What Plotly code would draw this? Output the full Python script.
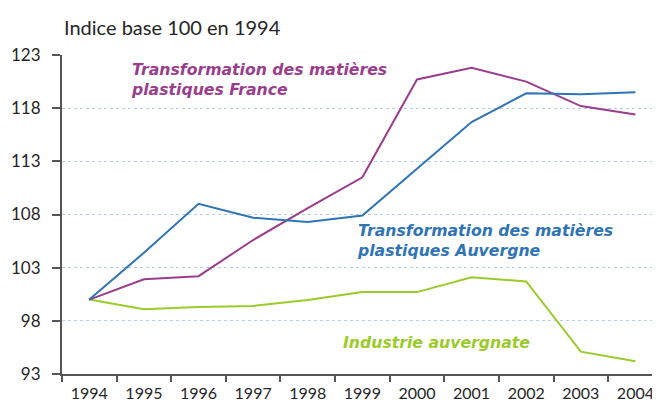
import plotly.graph_objects as go

years = ["1994", "1995", "1996", "1997", "1998", "1999", "2000", "2001", "2002", "2003", "2004"]
plast_france = [100, 101.9, 102.2, 105.6, 108.6, 111.5, 120.7, 121.8, 120.5, 118.2, 117.4]
plast_auvergne = [100, 104.4, 109.0, 107.7, 107.3, 107.9, 112.3, 116.7, 119.4, 119.3, 119.5]
industrie_auv = [100, 99.1, 99.3, 99.4, 99.95, 100.7, 100.7, 102.1, 101.7, 95.1, 94.2]
y_ticks = [93, 98, 103, 108, 113, 118, 123]

PURPLE = "#9a3d8c"
BLUE = "#2f74b5"
GREEN = "#9bcb2a"
FONT = "Lato"
ANN_FONT = "DejaVu Sans"
TXT = "#262626"

fig = go.Figure()
for vals, col in [(industrie_auv, GREEN), (plast_france, PURPLE), (plast_auvergne, BLUE)]:
    fig.add_trace(go.Scatter(x=years, y=vals, mode="lines",
                             line=dict(color=col, width=2), showlegend=False,
                             hoverinfo="skip"))

ann_font = dict(family=ANN_FONT, size=15.7)
fig.add_annotation(x=0.72, y=122.75, xref="x", yref="y", xanchor="left", yanchor="top",
                   text="<b><i>Transformation des matières<br>plastiques France</i></b>",
                   showarrow=False, align="left", font=dict(color=PURPLE, **ann_font))
fig.add_annotation(x=4.87, y=107.55, xref="x", yref="y", xanchor="left", yanchor="top",
                   text="<b><i>Transformation des matières<br>plastiques Auvergne</i></b>",
                   showarrow=False, align="left", font=dict(color=BLUE, **ann_font))
fig.add_annotation(x=4.6, y=95.95, xref="x", yref="y", xanchor="left", yanchor="middle",
                   text="<b><i>Industrie auvergnate</i></b>",
                   showarrow=False, align="left", font=dict(color=GREEN, **ann_font))
fig.add_annotation(x=0, y=1 + (47 - 19) / 319.0, xref="paper", yref="paper",
                   xanchor="left", yanchor="middle",
                   text="Indice base 100 en 1994", showarrow=False,
                   font=dict(family=FONT, size=20, color=TXT))

# page body has an 8px default margin, so the figure is sized to fit the window
fig.update_layout(
    width=652, height=397,
    margin=dict(l=54, r=0, t=47, b=31, autoexpand=False),
    paper_bgcolor="white", plot_bgcolor="white",
    font=dict(family=FONT, size=16, color=TXT),
)

fig.update_xaxes(type="category", range=[-0.5, 10.45], tickson="boundaries",
                 ticks="outside", ticklen=6, tickwidth=1.5, tickcolor="#555555",
                 showline=True, linecolor="#555555", linewidth=2,
                 showgrid=False, zeroline=False, ticklabelstandoff=4, automargin=False,
                 tickfont=dict(family=FONT, size=16, color=TXT))
fig.update_yaxes(range=[93, 123], tickvals=y_ticks, ticktext=[str(v) for v in y_ticks],
                 ticks="outside", ticklen=8, tickwidth=2, tickcolor="#555555",
                 showline=True, linecolor="#555555", linewidth=2,
                 showgrid=True, gridcolor="#b3cff0", griddash="dot", gridwidth=1,
                 zeroline=False, ticklabelstandoff=8, automargin=False,
                 tickfont=dict(family=FONT, size=17, color=TXT))

fig.write_html("out.html")
